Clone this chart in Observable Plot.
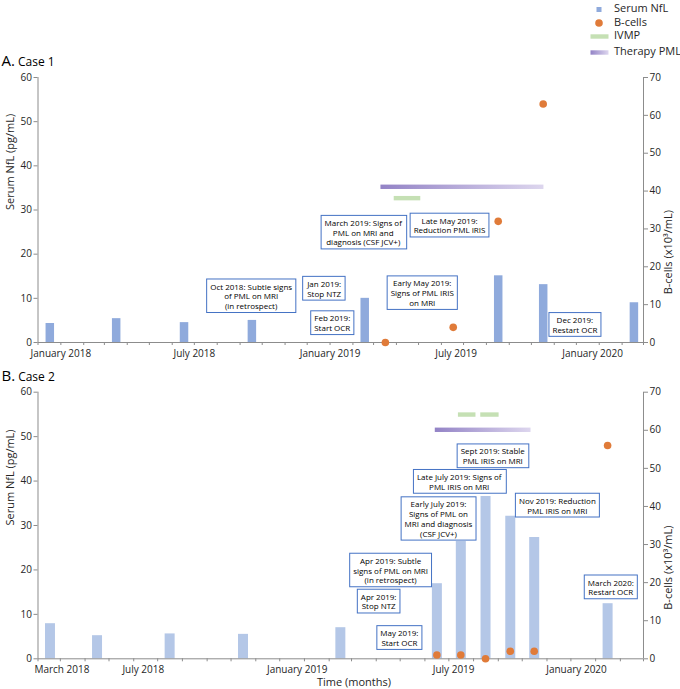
<!DOCTYPE html>
<html><head><meta charset="utf-8">
<script src="https://cdn.jsdelivr.net/npm/d3@7"></script>
<script src="https://cdn.jsdelivr.net/npm/@observablehq/plot@0.6"></script>
<style>
body{margin:0;background:#fff;font-family:"Open Sans",sans-serif;}
#root{position:relative;width:680px;height:689px;overflow:hidden;background:#fff;}
#root > svg{position:absolute;left:0;}
</style></head><body>
<svg width="0" height="0" style="position:absolute"><defs>
<linearGradient id="pmlGrad" x1="0" x2="1" y1="0" y2="0"><stop offset="0" stop-color="#9383c6"/><stop offset="1" stop-color="#ddd6ee"/></linearGradient>
</defs></svg>
<div id="root"></div>
<script>
// ---------------- DATA ----------------
const legendItems = ["Serum NfL", "B-cells", "IVMP", "Therapy PML"];
const nflMax = 60, bcellMax = 70;
const nflTicks = [0, 10, 20, 30, 40, 50, 60];
const bcellTicks = [0, 10, 20, 30, 40, 50, 60, 70];
const yLabelLeft = "Serum NfL (pg/mL)";
const yLabelRight = "B-cells (x10³/mL)";
const xLabel = "Time (months)";

// Case 1
const case1Domain = ["2017-12-01", "2020-03-01"];
const case1NflDates = ["2017-12-17", "2018-03-17", "2018-06-17", "2018-09-17", "2019-02-17", "2019-08-17", "2019-10-17", "2020-02-17"];
const case1NflValues = [4.3, 5.4, 4.5, 5.0, 10.0, 15.1, 13.1, 9.0];
const case1BcellDates = ["2019-03-17", "2019-06-17", "2019-08-17", "2019-10-17"];
const case1BcellValues = [0, 4, 32, 63];
const case1PmlStart = ["2019-03-11"], case1PmlEnd = ["2019-10-18"], case1PmlLevel = [41];
const case1IvmpStart = ["2019-03-29"], case1IvmpEnd = ["2019-05-04"], case1IvmpLevel = [38];
const case1TickLabels = ["January 2018", "July 2018", "January 2019", "July 2019", "January 2020"];
const case1TickDates = ["2018-01-01", "2018-07-01", "2019-01-01", "2019-06-21", "2019-12-23"];
const case1Notes = [
  "Oct 2018: Subtle signs\nof PML on MRI\n(in retrospect)",
  "Jan 2019:\nStop NTZ",
  "Feb 2019:\nStart OCR",
  "March 2019: Signs of\nPML on MRI and\ndiagnosis (CSF JCV+)",
  "Late May 2019:\nReduction PML IRIS",
  "Early May 2019:\nSigns of PML IRIS\non MRI",
  "Dec 2019:\nRestart OCR"
];
const case1NoteDates = ["2018-09-16", "2018-12-24", "2019-01-04", "2019-02-15", "2019-06-12", "2019-05-06", "2019-11-29"];
const case1NoteLevels = [10.5, 12.2, 4.4, 24.9, 26.5, 11.2, 4.0];

// Case 2
const case2Domain = ["2018-02-01", "2020-03-01"];
const case2NflDates = ["2018-02-16", "2018-04-16", "2018-07-16", "2018-10-16", "2019-02-15", "2019-06-16", "2019-07-16", "2019-08-16", "2019-09-16", "2019-10-16", "2020-01-16"];
const case2NflValues = [7.9, 5.2, 5.6, 5.5, 7.0, 16.9, 26.4, 36.5, 32.1, 27.3, 12.4];
const case2BcellDates = ["2019-06-16", "2019-07-16", "2019-08-16", "2019-09-16", "2019-10-16", "2020-01-16"];
const case2BcellValues = [1, 1, 0, 2, 2, 56];
const case2PmlStart = ["2019-06-14"], case2PmlEnd = ["2019-10-12"], case2PmlLevel = [60];
const case2IvmpStart = ["2019-07-13", "2019-08-10"], case2IvmpEnd = ["2019-08-04", "2019-09-02"], case2IvmpLevel = [64, 64];
const case2TickLabels = ["March 2018", "July 2018", "January 2019", "July 2019", "January 2020"];
const case2TickDates = ["2018-03-03", "2018-06-13", "2018-12-23", "2019-07-07", "2019-12-08"];
const case2Notes = [
  "Apr 2019: Subtle\nsigns of PML on MRI\n(in retrospect)",
  "Apr 2019:\nStop NTZ",
  "May 2019:\nStart OCR",
  "Early July 2019:\nSigns of PML on\nMRI and diagnosis\n(CSF JCV+)",
  "Late July 2019: Signs of\nPML IRIS on MRI",
  "Sept 2019: Stable\nPML IRIS on MRI",
  "Nov 2019: Reduction\nPML IRIS on MRI",
  "March 2020:\nRestart OCR"
];
const case2NoteDates = ["2019-04-19", "2019-04-04", "2019-04-30", "2019-06-18", "2019-07-14", "2019-08-25", "2019-11-14", "2020-01-20"];
const case2NoteLevels = [19.9, 12.9, 4.7, 31.5, 39.85, 45.6, 34.5, 16.1];

// ---------------- DRAWING ----------------
const D = s => new Date(s);
const toLeft = b => b * nflMax / bcellMax;
const AXIS = "#8c8c8c", TXT = "#262626";
const NOTE_FILL = "#010101";

function panel(o) {
  const noteI = d3.range(o.notes.length);
  const tickI = d3.range(o.tickLabels.length);
  const ivI = d3.range(o.ivmpStart.length);
  const pmI = d3.range(o.pmlStart.length);
  const months = d3.utcMonth.range(D(o.domain[0]), d3.utcDay.offset(D(o.domain[1]), 1));
  return Plot.plot({
    width: 680, height: o.height,
    marginLeft: 37.5, marginRight: 37, marginTop: o.marginTop, marginBottom: o.marginBottom,
    style: {fontFamily: "'Open Sans', sans-serif", fontSize: "10px", color: TXT, background: "transparent", overflow: "visible"},
    x: {type: "utc", domain: o.domain.map(D)},
    y: {domain: [0, nflMax]},
    marks: [
      Plot.ruleX(o.nflValues, {x: (d, i) => D(o.nflDates[i]), y1: 0, y2: d => d, stroke: o.barColor, strokeWidth: o.barWidth}),
      Plot.rect(pmI, {x1: i => D(o.pmlStart[i]), x2: i => D(o.pmlEnd[i]), y1: i => toLeft(o.pmlLevel[i]), y2: i => toLeft(o.pmlLevel[i]), fill: "url(#pmlGrad)", insetTop: -2.2, insetBottom: -2.2}),
      Plot.rect(ivI, {x1: i => D(o.ivmpStart[i]), x2: i => D(o.ivmpEnd[i]), y1: i => toLeft(o.ivmpLevel[i]), y2: i => toLeft(o.ivmpLevel[i]), fill: "#c5e0b4", insetTop: -2.2, insetBottom: -2.2}),
      Plot.ruleY([0], {stroke: AXIS}),
      Plot.ruleX(o.domain.map(D), {stroke: AXIS}),
      Plot.axisX(months, {tickSize: 3, tickFormat: () => "", stroke: AXIS, label: null}),
      Plot.axisY({anchor: "left", ticks: nflTicks, tickSize: 4, tickPadding: 2, stroke: AXIS, label: null, fontSize: 10}),
      Plot.axisY({anchor: "right", ticks: bcellTicks.map(toLeft), tickFormat: d => String(Math.round(d * bcellMax / nflMax)), tickSize: 4, tickPadding: 2, stroke: AXIS, label: null, fontSize: 10}),
      Plot.text(tickI, {x: i => D(o.tickDates[i]), y: 0, text: i => o.tickLabels[i], dy: 11, fontSize: 10, lineAnchor: "middle", fill: TXT}),
      Plot.dot(o.bcellValues, {x: (d, i) => D(o.bcellDates[i]), y: d => toLeft(d), r: 3.8, fill: "#e07b39", stroke: "none"}),
      Plot.text(noteI, {x: i => D(o.noteDates[i]), y: i => o.noteLevels[i], text: i => o.notes[i], fontSize: 8, lineHeight: 1.22, lineAnchor: "middle", textAnchor: "middle", fill: NOTE_FILL, ariaDescription: "annot"}),
      Plot.text([yLabelLeft], {frameAnchor: "left", rotate: -90, dx: -28, fontSize: 11, fill: TXT}),
      Plot.text([yLabelRight], {frameAnchor: "right", rotate: -90, dx: 25, fontSize: 11, fill: TXT})
    ]
  });
}

function boxNotes(svg) {
  let texts = svg.querySelectorAll('g[aria-description="annot"] text');
  if (!texts.length) texts = svg.querySelectorAll('g[fill="' + NOTE_FILL + '"] text');
  texts.forEach(t => {
    const b = t.getBBox();
    const r = document.createElementNS("http://www.w3.org/2000/svg", "rect");
    r.setAttribute("x", b.x - 3.5);
    r.setAttribute("y", b.y - 1.5);
    r.setAttribute("width", b.width + 7);
    r.setAttribute("height", b.height + 3);
    r.setAttribute("fill", "#fff");
    r.setAttribute("stroke", "#4472c4");
    r.setAttribute("stroke-width", "1");
    const tr = t.getAttribute("transform");
    if (tr) r.setAttribute("transform", tr);
    t.parentNode.insertBefore(r, t);
  });
}

const root = document.getElementById("root");

const p1 = panel({
  height: 310, marginTop: 21, marginBottom: 24, domain: case1Domain,
  nflDates: case1NflDates, nflValues: case1NflValues, bcellDates: case1BcellDates, bcellValues: case1BcellValues,
  pmlStart: case1PmlStart, pmlEnd: case1PmlEnd, pmlLevel: case1PmlLevel,
  ivmpStart: case1IvmpStart, ivmpEnd: case1IvmpEnd, ivmpLevel: case1IvmpLevel,
  tickLabels: case1TickLabels, tickDates: case1TickDates,
  notes: case1Notes, noteDates: case1NoteDates, noteLevels: case1NoteLevels,
  barColor: "#8faadc", barWidth: 8.5
});
p1.style.top = "56px";
root.appendChild(p1);
boxNotes(p1);

const p2 = panel({
  height: 312.3, marginTop: 21.7, marginBottom: 24, domain: case2Domain,
  nflDates: case2NflDates, nflValues: case2NflValues, bcellDates: case2BcellDates, bcellValues: case2BcellValues,
  pmlStart: case2PmlStart, pmlEnd: case2PmlEnd, pmlLevel: case2PmlLevel,
  ivmpStart: case2IvmpStart, ivmpEnd: case2IvmpEnd, ivmpLevel: case2IvmpLevel,
  tickLabels: case2TickLabels, tickDates: case2TickDates,
  notes: case2Notes, noteDates: case2NoteDates, noteLevels: case2NoteLevels,
  barColor: "#b4c7e7", barWidth: 10
});
p2.style.top = "370px";
root.appendChild(p2);
boxNotes(p2);

// Overlay: panel titles, legend, x label
const ov = d3.create("svg").attr("width", 680).attr("height", 689)
  .style("position", "absolute").style("top", "0px").style("left", "0px")
  .style("pointer-events", "none").style("font-family", "'Open Sans', sans-serif");
const tA = ov.append("text").attr("x", 1.5).attr("y", 65.5).attr("fill", "#000");
tA.append("tspan").attr("font-size", 15).text("A.");
tA.append("tspan").attr("font-size", 12).attr("dx", 3).text("Case 1");
const tB = ov.append("text").attr("x", 1.5).attr("y", 380.5).attr("fill", "#000");
tB.append("tspan").attr("font-size", 15).text("B.");
tB.append("tspan").attr("font-size", 12).attr("dx", 3).text("Case 2");
ov.append("text").attr("x", 354).attr("y", 683).attr("text-anchor", "middle").attr("dominant-baseline", "middle")
  .attr("font-size", 11).attr("fill", TXT).text(xLabel);

const legY = [9.5, 23, 36.5, 52.5];
const lg = ov.append("g");
lg.append("rect").attr("x", 596.5).attr("y", legY[0] - 2.5).attr("width", 5).attr("height", 5).attr("fill", "#8faadc");
lg.append("circle").attr("cx", 599).attr("cy", legY[1]).attr("r", 3.8).attr("fill", "#e07b39");
lg.append("rect").attr("x", 590.5).attr("y", legY[2] - 2.2).attr("width", 18).attr("height", 4.4).attr("fill", "#c5e0b4");
lg.append("rect").attr("x", 590.5).attr("y", legY[3] - 2.2).attr("width", 18).attr("height", 4.4).attr("fill", "url(#pmlGrad)");
legendItems.forEach((s, i) => {
  lg.append("text").attr("x", 614).attr("y", legY[i]).attr("dominant-baseline", "middle")
    .attr("font-size", 11).attr("fill", TXT).text(s);
});
root.appendChild(ov.node());
</script>
</body></html>
